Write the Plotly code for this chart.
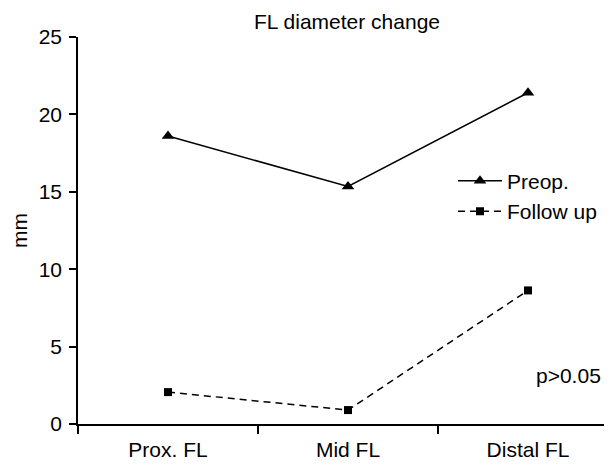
import plotly.graph_objects as go

categories = ["Prox. FL", "Mid FL", "Distal FL"]
preop = [18.6, 15.35, 21.4]
follow_up = [2.06, 0.9, 8.63]
y_ticks = [0, 5, 10, 15, 20, 25]

FONT = "Liberation Sans, Arial, sans-serif"
FS = 21
# the page body has an 8px margin: build the figure so it fills the window exactly
OFF = 8
W, H = 612 - OFF, 464 - OFF
# plot area in window pixels
X0, X1, Y0, Y1 = 78, 612, 37.2, 424.5
L, R, T, B = X0 - OFF, 612 - X1, Y0 - OFF, 464 - Y1
pw, ph = X1 - X0, Y1 - Y0


def px(x):
    return (x - X0) / pw


def py(y):
    return (Y1 - y) / ph


fig = go.Figure()
fig.add_trace(go.Scatter(
    x=categories, y=preop, name="Preop.", mode="lines+markers",
    line=dict(color="black", width=1.5),
    marker=dict(symbol="triangle-up", size=11, color="black"),
))
fig.add_trace(go.Scatter(
    x=categories, y=follow_up, name="Follow up", mode="lines+markers",
    line=dict(color="black", width=1.5, dash="7px,5px"),
    marker=dict(symbol="square", size=8, color="black"),
))

fig.update_layout(
    width=W, height=H,
    margin=dict(l=L, r=R, t=T, b=B, autoexpand=False),
    paper_bgcolor="white", plot_bgcolor="white",
    font=dict(family=FONT, color="black", size=FS),
    title=dict(text="FL diameter change", x=(347 - OFF) / W, xanchor="center",
               y=1 - (22 - OFF) / H, yanchor="middle", xref="container",
               font=dict(size=FS, family=FONT, color="black")),
    showlegend=True,
    legend=dict(x=px(453), y=py(161), xanchor="left", yanchor="top",
                bgcolor="rgba(0,0,0,0)", font=dict(size=FS, family=FONT),
                itemwidth=44),
    annotations=[dict(text="p>0.05", x=px(603), y=py(376),
                      xref="paper", yref="paper", xanchor="right", yanchor="middle",
                      showarrow=False, font=dict(size=FS, family=FONT))],
)
fig.update_xaxes(
    type="category", categoryorder="array", categoryarray=categories,
    range=[-0.5, 2.5 - 6 / 180], tickson="boundaries",
    showline=True, linecolor="black", linewidth=1.5,
    ticks="outside", ticklen=8, tickcolor="black", tickwidth=1.5,
    ticklabelstandoff=6,
    showgrid=False, zeroline=False, tickfont=dict(size=FS, family=FONT),
    automargin=False,
)
fig.update_yaxes(
    range=[0, 25], tickvals=y_ticks,
    showline=True, linecolor="black", linewidth=1.5,
    ticks="outside", ticklen=7, tickcolor="black", tickwidth=1.5,
    ticklabelstandoff=3,
    showgrid=False, zeroline=False, tickfont=dict(size=FS, family=FONT),
    title=dict(text="mm", standoff=8, font=dict(size=FS, family=FONT)),
    automargin=False,
)

fig.write_html("out.html")
